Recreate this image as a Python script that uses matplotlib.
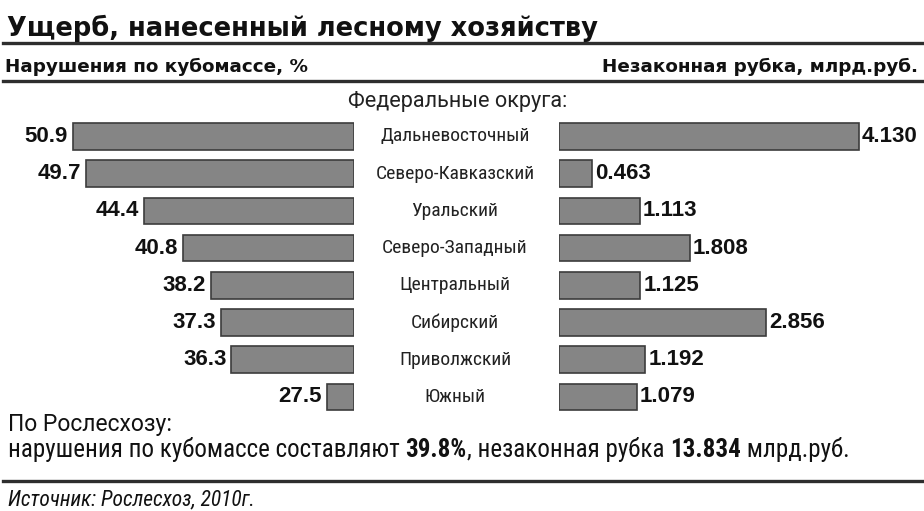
import matplotlib
matplotlib.use('Agg')
import matplotlib.pyplot as plt
import matplotlib.transforms as mtransforms
from matplotlib import font_manager

# federal districts, top to bottom
districts = ['Дальневосточный', 'Северо-Кавказский', 'Уральский', 'Северо-Западный',
             'Центральный', 'Сибирский', 'Приволжский', 'Южный']
# violations by timber volume, %
violations_pct = [50.9, 49.7, 44.4, 40.8, 38.2, 37.3, 36.3, 27.5]
# illegal logging, bln rub
illegal_logging = [4.130, 0.463, 1.113, 1.808, 1.125, 2.856, 1.192, 1.079]
# country totals
total_pct = 39.8
total_logging = 13.834

pct_base = 25  # left scale starts here

names = {f.name for f in font_manager.fontManager.ttflist}
narrow = next((n for n in ['Roboto Condensed', 'PT Sans Narrow',
                           'IBM Plex Sans Condensed', 'DejaVu Sans']
               if n in names))
regular = 'Roboto' if 'Roboto' in names else 'DejaVu Sans'
heavy = 'DejaVu Sans'
digits = 'Liberation Sans'

W, H = 924, 511
fig = plt.figure(figsize=(W / 100, H / 100), dpi=100)
fig.patch.set_facecolor('white')


def fx(px):
    return px / W


def fy(py):
    return 1 - py / H


bar_face = '#858585'
bar_edge = '#3c3c3c'
ink = '#111111'
rule = '#2e2e2e'

# header
fig.text(fx(7), fy(28), 'Ущерб, нанесенный лесному хозяйству', family=heavy,
         weight='bold', fontsize=18.5, va='center', ha='left', color=ink)
fig.add_artist(plt.Line2D([fx(3), 1], [fy(43), fy(43)], color=rule, lw=2.4))
fig.text(fx(5), fy(67), 'Нарушения по кубомассе, %', family=heavy,
         weight='bold', fontsize=13.2, va='center', ha='left', color=ink)
fig.text(fx(918), fy(67), 'Незаконная рубка, млрд.руб.', family=heavy,
         weight='bold', fontsize=13.2, va='center', ha='right', color=ink)
fig.add_artist(plt.Line2D([fx(3), 1], [fy(81), fy(81)], color=rule, lw=2.4))
fig.text(fx(458), fy(101), 'Федеральные округа:', family=regular,
         fontsize=15.6, va='center', ha='center', color='#222222')

# bar panels
row_h = 37.2
top = 136.5 - row_h / 2
span = row_h * len(districts)
bottom = fy(top + span)
height = span / H

ax_l = fig.add_axes([0, bottom, fx(354), height])
ax_r = fig.add_axes([fx(558.7), bottom, fx(W - 558.7), height])

ys = list(range(len(districts)))
left_scale = 10.85  # px per percent
right_scale = 72.7  # px per bln rub

widths = [v - pct_base for v in violations_pct]
ax_l.barh(ys, widths, left=pct_base, height=0.72, color=bar_face,
          edgecolor=bar_edge, linewidth=1.2)
ax_l.set_xlim(pct_base + 354 / left_scale, pct_base)
ax_r.barh(ys, illegal_logging, height=0.72, color=bar_face,
          edgecolor=bar_edge, linewidth=1.2)
ax_r.set_xlim(0, (W - 558.7) / right_scale)

for ax in (ax_l, ax_r):
    ax.set_ylim(len(districts) - 0.5, -0.5)
    ax.axis('off')

for y, v in zip(ys, violations_pct):
    ax_l.text(v + 0.45, y, f'{v:.1f}', family=digits, weight='bold',
              fontsize=16, ha='right', va='center', color=ink)
for y, v in zip(ys, illegal_logging):
    ax_r.text(v + 0.04, y, f'{v:.3f}', family=digits, weight='bold',
              fontsize=16, ha='left', va='center', color=ink)

mid = mtransforms.blended_transform_factory(fig.transFigure, ax_l.transData)
for y, name in zip(ys, districts):
    ax_l.text(fx(455), y, name, transform=mid, family=narrow, fontsize=14,
              ha='center', va='center', color='#222222', clip_on=False)

# totals
fig.text(fx(8), fy(424), 'По Рослесхозу:', family=regular, fontsize=16.5,
         va='center', ha='left', color=ink)

pieces = [('нарушения по кубомассе составляют ', 'normal'),
          (f'{total_pct:.1f}%', 'bold'),
          (', незаконная рубка ', 'normal'),
          (f'{total_logging:.3f}', 'bold'),
          (' млрд.руб.', 'normal')]
renderer = fig.canvas.get_renderer()
x = fx(8)
for txt, w in pieces:
    t = fig.text(x, fy(450), txt, family=narrow, weight=w, fontsize=18,
                 va='center', ha='left', color=ink)
    bb = t.get_window_extent(renderer=renderer)
    x += bb.width / W

fig.add_artist(plt.Line2D([fx(3), 1], [fy(481), fy(481)], color=rule, lw=2.4))
fig.text(fx(8), fy(500), 'Источник: Рослесхоз, 2010г.', family=narrow,
         style='italic', fontsize=15.5, va='center', ha='left', color=ink)

fig.savefig('out.png', dpi=100, facecolor='white')
